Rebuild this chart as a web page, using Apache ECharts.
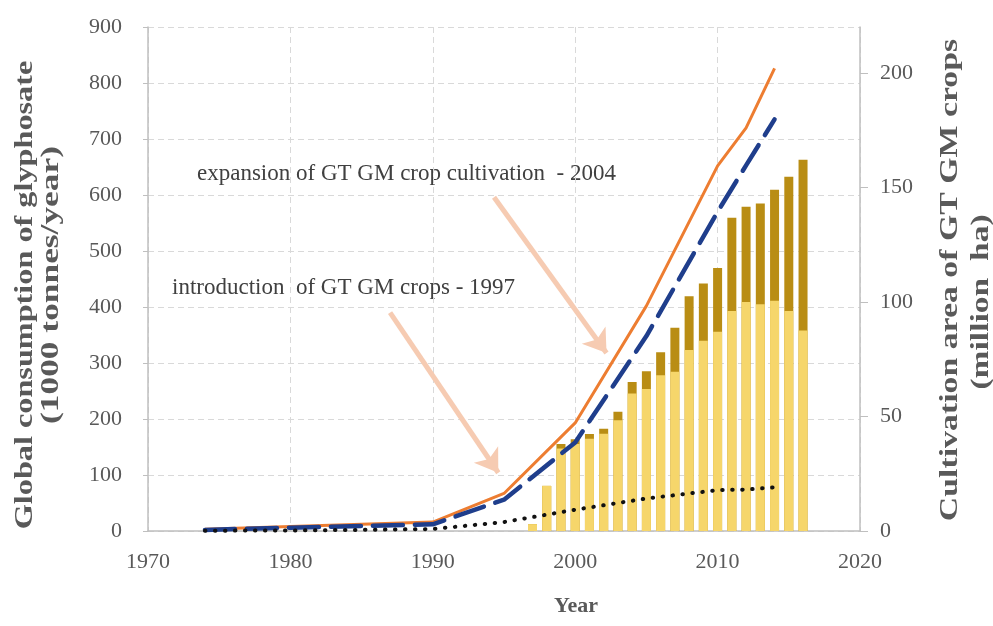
<!DOCTYPE html>
<html><head><meta charset="utf-8">
<script src="https://cdn.jsdelivr.net/npm/echarts@6/dist/echarts.min.js"></script>
<style>html,body{margin:0;padding:0;background:#fff}#c{width:993px;height:626px}</style>
</head><body><div id="c"></div>
<script>
// GT GM crop cultivation area (million ha), right axis
const barYears = [1997,1998,1999,2000,2001,2002,2003,2004,2005,2006,2007,2008,2009,2010,2011,2012,2013,2014,2015,2016];
const gtLight  = [3,19.7,36,38,40.3,42.4,48.3,60,62,68,69.5,79,83,87,96,100,99,100.5,96,87.5];
const gtDark   = [0,0,2,2,2,2.2,3.7,5,7.7,10,19.2,23.5,25,27.8,40.7,41.5,44,48.5,58.6,74.5];
// Glyphosate consumption (1000 tonnes/year), left axis
const lineYears  = [1974,1980,1985,1990,1995,2000,2005,2010,2012,2014];
const totalUse   = [3,8,12,16,67,193,402,652,720,826];
const agriUse    = [2,6,9,12,56,158,348,570,653,735];
const nonAgriUse = [0.5,1,2,3.5,16,38,58,73,74,78];
// axis ticks
const xTicks = [1970,1980,1990,2000,2010,2020];
const leftTicks = [0,100,200,300,400,500,600,700,800,900];
const rightTicks = [0,50,100,150,200];
// annotation arrows [from year, from value] -> [to year, to value] (left axis units)
const arrowIntro = [[1987.0,390],[1994.6,104]];
const arrowExpand = [[1994.3,596],[2002.2,318]];
const noteIntro = 'introduction  of GT GM crops - 1997';
const noteExpand = 'expansion of GT GM crop cultivation  - 2004';
const leftTitle = ['Global consumption of glyphosate', '(1000 tonnes/year)'];
const rightTitle = ['Cultivation area of GT GM crops', '(million  ha)'];

const SERIF = '"Liberation Serif", "DejaVu Serif", serif';
const GRAY = '#595959';
const chart = echarts.init(document.getElementById('c'), null, {renderer:'canvas'});
const pair = (xs, ys) => xs.map((x,i)=>[x, ys[i]]);
// dark part sits on top of the light part: draw the full stack height, light drawn over it
const gtTotal = gtLight.map((v,i)=>v + gtDark[i]);

const titleFont = 'bold 26px ' + SERIF;
const vTitle = (text, x, y, stretch) => ({
  type:'text', x:x, y:y, rotation:Math.PI/2, scaleX:stretch, scaleY:1, silent:true,
  style:{text:text, font:titleFont, fill:GRAY, align:'center', verticalAlign:'middle'}
});

chart.setOption({
  animation:false,
  backgroundColor:'#ffffff',
  grid:{left:148, right:133, top:27, bottom:95, containLabel:false, outerBoundsMode:'none'},
  xAxis:{
    type:'value', min:xTicks[0], max:xTicks[xTicks.length-1], interval:10,
    name:'Year', nameLocation:'middle', nameGap:64,
    nameTextStyle:{fontFamily:SERIF, fontWeight:'bold', fontSize:22, color:GRAY, padding:[0,0,0,144]},
    axisLine:{show:true, lineStyle:{color:'#bfbfbf', width:1.5}},
    axisTick:{show:false},
    axisLabel:{fontFamily:SERIF, fontSize:22, color:GRAY, margin:20, formatter:v=>String(v)},
    splitLine:{show:true, lineStyle:{color:'#d9d9d9', type:[6,4], width:1}}
  },
  yAxis:[{
    type:'value', min:leftTicks[0], max:leftTicks[leftTicks.length-1], interval:100,
    axisLine:{show:true, lineStyle:{color:'#bfbfbf', width:1.5}},
    axisTick:{show:true, length:5, lineStyle:{color:'#bfbfbf'}},
    axisLabel:{fontFamily:SERIF, fontSize:22, color:GRAY, margin:26},
    splitLine:{show:true, lineStyle:{color:'#d9d9d9', type:[6,4], width:1}}
  },{
    type:'value', min:0, max:220, interval:50, position:'right',
    axisLine:{show:true, lineStyle:{color:'#bfbfbf', width:1.5}},
    axisTick:{show:true, length:8, lineStyle:{color:'#bfbfbf'}, customValues:rightTicks},
    axisLabel:{fontFamily:SERIF, fontSize:22, color:GRAY, margin:20, customValues:rightTicks},
    splitLine:{show:false}
  }],
  series:[
    {type:'bar', name:'GT crops (upper part)', yAxisIndex:1, barWidth:9, barGap:'-100%',
     itemStyle:{color:'#B98D14'}, data:pair(barYears, gtTotal), z:1},
    {type:'bar', name:'GT crops (lower part)', yAxisIndex:1, barWidth:9, barGap:'-100%',
     itemStyle:{color:'#F6D66B'}, data:pair(barYears, gtLight), z:2},
    {type:'line', name:'Total', yAxisIndex:0, showSymbol:false, symbol:'none',
     lineStyle:{color:'#ED7D31', width:3}, data:pair(lineYears, totalUse), z:3,
     markLine:{silent:true, symbol:['none','arrow'], symbolSize:[22,22],
       lineStyle:{color:'#F6CBB2', width:5, type:'solid', opacity:1},
       label:{show:false},
       data:[
         [{coord:arrowIntro[0]},{coord:arrowIntro[1]}],
         [{coord:arrowExpand[0]},{coord:arrowExpand[1]}]
       ]}},
    {type:'line', name:'Agricultural', yAxisIndex:0, showSymbol:false, symbol:'none',
     lineStyle:{color:'#1F3E8C', width:4.5, type:[30,12], cap:'round'}, data:pair(lineYears, agriUse), z:4},
    {type:'line', name:'Non-agricultural', yAxisIndex:0, showSymbol:false, symbol:'none',
     lineStyle:{color:'#111111', width:4, type:[0.5,9.5], cap:'round'}, data:pair(lineYears, nonAgriUse), z:5}
  ],
  graphic:[
    {type:'text', left:197, top:162, style:{text:noteExpand, font:'23px '+SERIF, fill:'#404040'}},
    {type:'text', left:172, top:276, style:{text:noteIntro, font:'23px '+SERIF, fill:'#404040'}},
    vTitle(leftTitle[0], 25, 295, 1.24),
    vTitle(leftTitle[1], 51, 285, 1.36),
    vTitle(rightTitle[0], 950, 280, 1.30),
    vTitle(rightTitle[1], 981, 302, 1.29)
  ]
});
</script></body></html>
